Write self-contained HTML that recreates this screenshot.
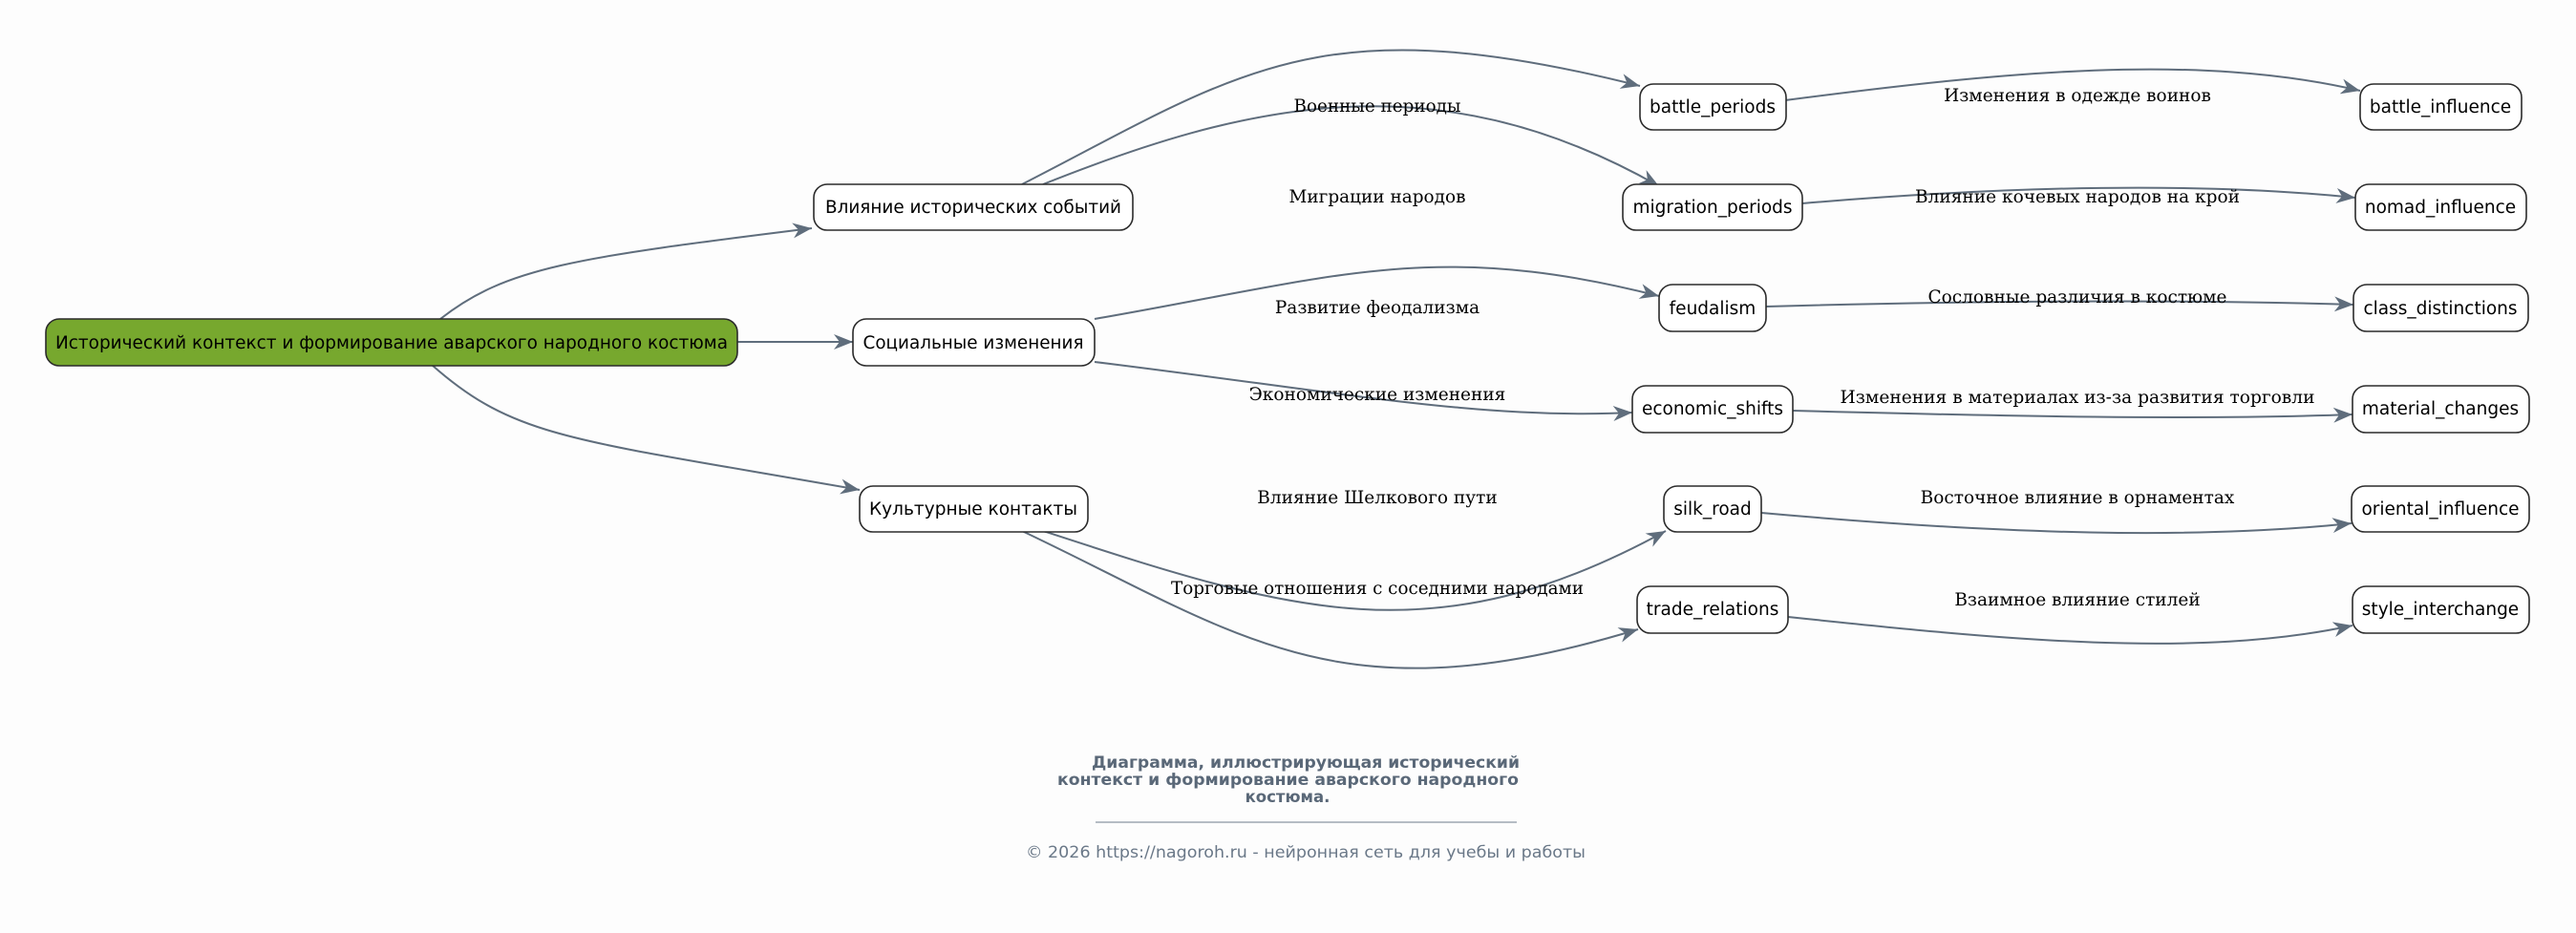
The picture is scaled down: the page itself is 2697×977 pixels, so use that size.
<!DOCTYPE html>
<html><head><meta charset="utf-8"><style>
html,body{margin:0;padding:0;background:#fdfdfd;}
svg{display:block;}
.n{fill:#fff;stroke:#2b2b2b;stroke-width:1.6;}
.t{font-family:"DejaVu Sans","Liberation Sans",sans-serif;font-size:18.5px;fill:#000;text-anchor:middle;}
.l{font-family:"DejaVu Serif","Liberation Serif",serif;font-size:18.5px;fill:#000;text-anchor:middle;}
.e{fill:none;stroke:#5f6d7c;stroke-width:2;marker-end:url(#a);}
</style></head><body>
<svg width="2697" height="977" viewBox="0 0 2697 977" xmlns="http://www.w3.org/2000/svg">
<defs>
<marker id="a" markerWidth="22" markerHeight="16" refX="20" refY="8" orient="auto" markerUnits="userSpaceOnUse">
<path d="M0,0 L20,8 L0,16 L6,8 Z" fill="#5f6d7c"/>
</marker>
</defs>
<rect width="2697" height="977" fill="#fdfdfd"/>

<path class="e" d="M461,334 C530,280 600,270 850,239"/>
<path class="e" d="M772,358 L893,358"/>
<path class="e" d="M452,382 C540,460 600,460 900,513"/>

<path class="e" d="M1070,193 C1300,75 1380,5 1717,90"/>
<path class="e" d="M1092,193 C1300,110 1500,60 1737,195"/>
<path class="e" d="M1146,334 C1400,290 1500,250 1737,310"/>
<path class="e" d="M1146,379 C1400,410 1550,440 1709,432"/>
<path class="e" d="M1092,556 C1350,640 1500,690 1744,556"/>
<path class="e" d="M1070,556 C1300,665 1400,755 1715,659"/>

<path class="e" d="M1869,105 C2100,75 2300,55 2471,95"/>
<path class="e" d="M1887,213 C2100,195 2300,190 2466,207"/>
<path class="e" d="M1849,321 C2100,314 2300,314 2464,319"/>
<path class="e" d="M1877,430 C2100,436 2300,440 2463,434"/>
<path class="e" d="M1844,537 C2100,560 2300,565 2462,548"/>
<path class="e" d="M1872,646 C2100,670 2300,690 2463,655"/>

<text class="l" x="1442" y="117" textLength="175" lengthAdjust="spacingAndGlyphs">Военные периоды</text>
<text class="l" x="1442" y="212" textLength="185" lengthAdjust="spacingAndGlyphs">Миграции народов</text>
<text class="l" x="1442" y="328">Развитие феодализма</text>
<text class="l" x="1442" y="419">Экономические изменения</text>
<text class="l" x="1442" y="527">Влияние Шелкового пути</text>
<text class="l" x="1442" y="622" textLength="432" lengthAdjust="spacingAndGlyphs">Торговые отношения с соседними народами</text>

<text class="l" x="2175" y="106">Изменения в одежде воинов</text>
<text class="l" x="2175" y="212" textLength="340" lengthAdjust="spacingAndGlyphs">Влияние кочевых народов на крой</text>
<text class="l" x="2175" y="317" textLength="313" lengthAdjust="spacingAndGlyphs">Сословные различия в костюме</text>
<text class="l" x="2175" y="422" textLength="497" lengthAdjust="spacingAndGlyphs">Изменения в материалах из-за развития торговли</text>
<text class="l" x="2175" y="527">Восточное влияние в орнаментах</text>
<text class="l" x="2175" y="634">Взаимное влияние стилей</text>

<rect x="48" y="334" width="724" height="49" rx="14" fill="#77a82e" stroke="#2b2b2b" stroke-width="1.6"/>
<text class="t" x="410" y="365" textLength="704" lengthAdjust="spacingAndGlyphs">Исторический контекст и формирование аварского народного костюма</text>

<rect class="n" x="852" y="193" width="334" height="48" rx="14"/>
<text class="t" x="1019" y="223" textLength="310" lengthAdjust="spacingAndGlyphs">Влияние исторических событий</text>
<rect class="n" x="893" y="334" width="253" height="49" rx="14"/>
<text class="t" x="1019" y="365" textLength="231" lengthAdjust="spacingAndGlyphs">Социальные изменения</text>
<rect class="n" x="900" y="509" width="239" height="48" rx="14"/>
<text class="t" x="1019" y="539" textLength="218" lengthAdjust="spacingAndGlyphs">Культурные контакты</text>

<rect class="n" x="1717" y="88" width="153" height="48" rx="14"/>
<text class="t" x="1793" y="118">battle_periods</text>
<rect class="n" x="1699" y="193" width="188" height="48" rx="14"/>
<text class="t" x="1793" y="223">migration_periods</text>
<rect class="n" x="1737" y="298" width="112" height="49" rx="14"/>
<text class="t" x="1793" y="329">feudalism</text>
<rect class="n" x="1709" y="404" width="168" height="49" rx="14"/>
<text class="t" x="1793" y="434">economic_shifts</text>
<rect class="n" x="1742" y="509" width="102" height="48" rx="14"/>
<text class="t" x="1793" y="539">silk_road</text>
<rect class="n" x="1714" y="614" width="158" height="49" rx="14"/>
<text class="t" x="1793" y="644">trade_relations</text>

<rect class="n" x="2471" y="88" width="169" height="48" rx="14"/>
<text class="t" x="2555" y="118">battle_influence</text>
<rect class="n" x="2466" y="193" width="179" height="48" rx="14"/>
<text class="t" x="2555" y="223">nomad_influence</text>
<rect class="n" x="2464" y="298" width="183" height="49" rx="14"/>
<text class="t" x="2555" y="329">class_distinctions</text>
<rect class="n" x="2463" y="404" width="185" height="49" rx="14"/>
<text class="t" x="2555" y="434">material_changes</text>
<rect class="n" x="2462" y="509" width="186" height="48" rx="14"/>
<text class="t" x="2555" y="539">oriental_influence</text>
<rect class="n" x="2463" y="614" width="185" height="49" rx="14"/>
<text class="t" x="2555" y="644">style_interchange</text>

<g font-family="DejaVu Sans, Liberation Sans, sans-serif" font-weight="bold" font-size="16.5" fill="#5a6878">
<text x="1143" y="804" textLength="448" lengthAdjust="spacingAndGlyphs">Диаграмма, иллюстрирующая исторический</text>
<text x="1107" y="822" textLength="483" lengthAdjust="spacingAndGlyphs">контекст и формирование аварского народного</text>
<text x="1348" y="840" text-anchor="middle">костюма.</text>
</g>
<line x1="1147" y1="861" x2="1588" y2="861" stroke="#8a96a3" stroke-width="1.2"/>
<text x="1367" y="898" text-anchor="middle" font-family="DejaVu Sans, Liberation Sans, sans-serif" font-size="16.5" fill="#6a7888" textLength="586" lengthAdjust="spacingAndGlyphs">© 2026 https://nagoroh.ru - нейронная сеть для учебы и работы</text>
</svg>
</body></html>
